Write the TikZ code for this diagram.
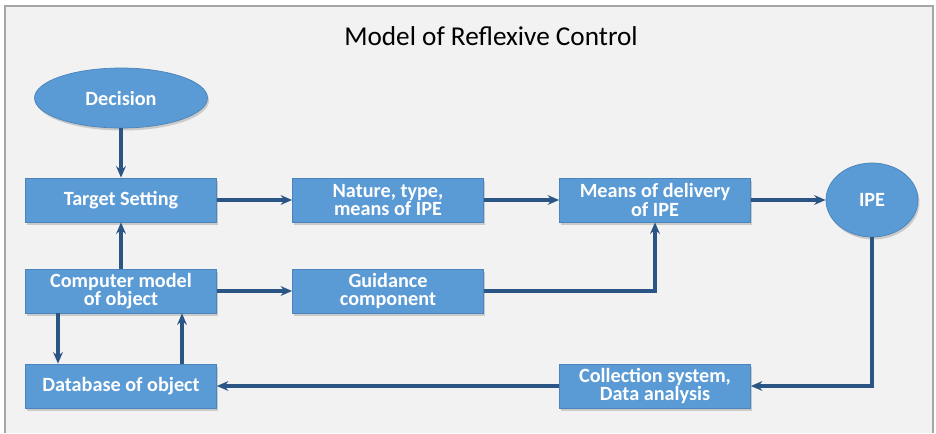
\documentclass[tikz,border=0pt]{standalone}
\usepackage{fontspec}
\setmainfont{Carlito}
\usetikzlibrary{arrows.meta,shapes.geometric,shadows}
\definecolor{boxblue}{HTML}{5B9BD5}
\definecolor{edgeblue}{HTML}{4A84BA}
\definecolor{arrowblue}{HTML}{2A5585}
\definecolor{framefill}{HTML}{F2F2F2}
\definecolor{frameline}{HTML}{A6A6A6}

\begin{document}
\begin{tikzpicture}
[x=0.2mm,y=-0.2mm,
  boxdecorate/.style={rectangle,fill=boxblue,draw=edgeblue,thin,
    minimum width=38.2mm,minimum height=8.8mm,inner sep=1pt,align=center,
    text=white,font=\bfseries\fontsize{11.5}{10.5}\selectfont,
    drop shadow={shadow xshift=0.3mm,shadow yshift=-0.5mm,opacity=0.35}},
  ellipsedecorate/.style={ellipse,fill=boxblue,draw=edgeblue,thin,
    inner sep=0pt,text=white,font=\bfseries\fontsize{11.5}{10.5}\selectfont,
    drop shadow={shadow xshift=0.3mm,shadow yshift=-0.5mm,opacity=0.35}},
  linedecorate/.style={-{Stealth[length=6.5pt,width=5.5pt]},line width=2pt,
    draw=arrowblue}]
\useasboundingbox (0,0) rectangle (936,433);
%% frame and title
\fill[framefill] (5,6) rectangle (933,433);
\draw[frameline,line width=0.8pt] (5,433) -- (5,6) -- (933,6) -- (933,433);
\node (title) at (491,36) [font=\fontsize{15.5}{17}\selectfont] {Model of Reflexive Control};
%% nodes or vertices
\foreach \nodename/\code/\x/\y in {target/Target Setting/121/200,
  nature/{Nature, type,\\means of IPE}/388/200,
  means/{Means of delivery\\of IPE}/655/200,
  comp/{Computer model\\of object}/121/291,
  guide/{Guidance\\component}/388/291,
  data/Database of object/121/386,
  coll/{Collection system,\\Data analysis}/655/386} {
  \node (\nodename) at (\x,\y) [boxdecorate] {\code};
}
\node (dec) at (121,98) [ellipsedecorate,minimum width=34.6mm,minimum height=12mm] {Decision};
\node (ipe) at (872,200) [ellipsedecorate,minimum width=18.4mm,minimum height=14.8mm] {IPE};
%% edges or lines
\path
\foreach \startnode/\endnode in {dec/target, target/nature, nature/means,
  means/ipe, comp/target, comp/guide, coll/data} {
  (\startnode) edge[linedecorate] (\endnode)
};
\draw[linedecorate] (guide) -| (means);
\draw[linedecorate] (ipe) |- (coll);
\draw[linedecorate] ([xshift=-12.6mm]comp.south) -- ([xshift=-12.6mm]data.north);
\draw[linedecorate] ([xshift=12.2mm]data.north) -- ([xshift=12.2mm]comp.south);
\end{tikzpicture}
\end{document}
